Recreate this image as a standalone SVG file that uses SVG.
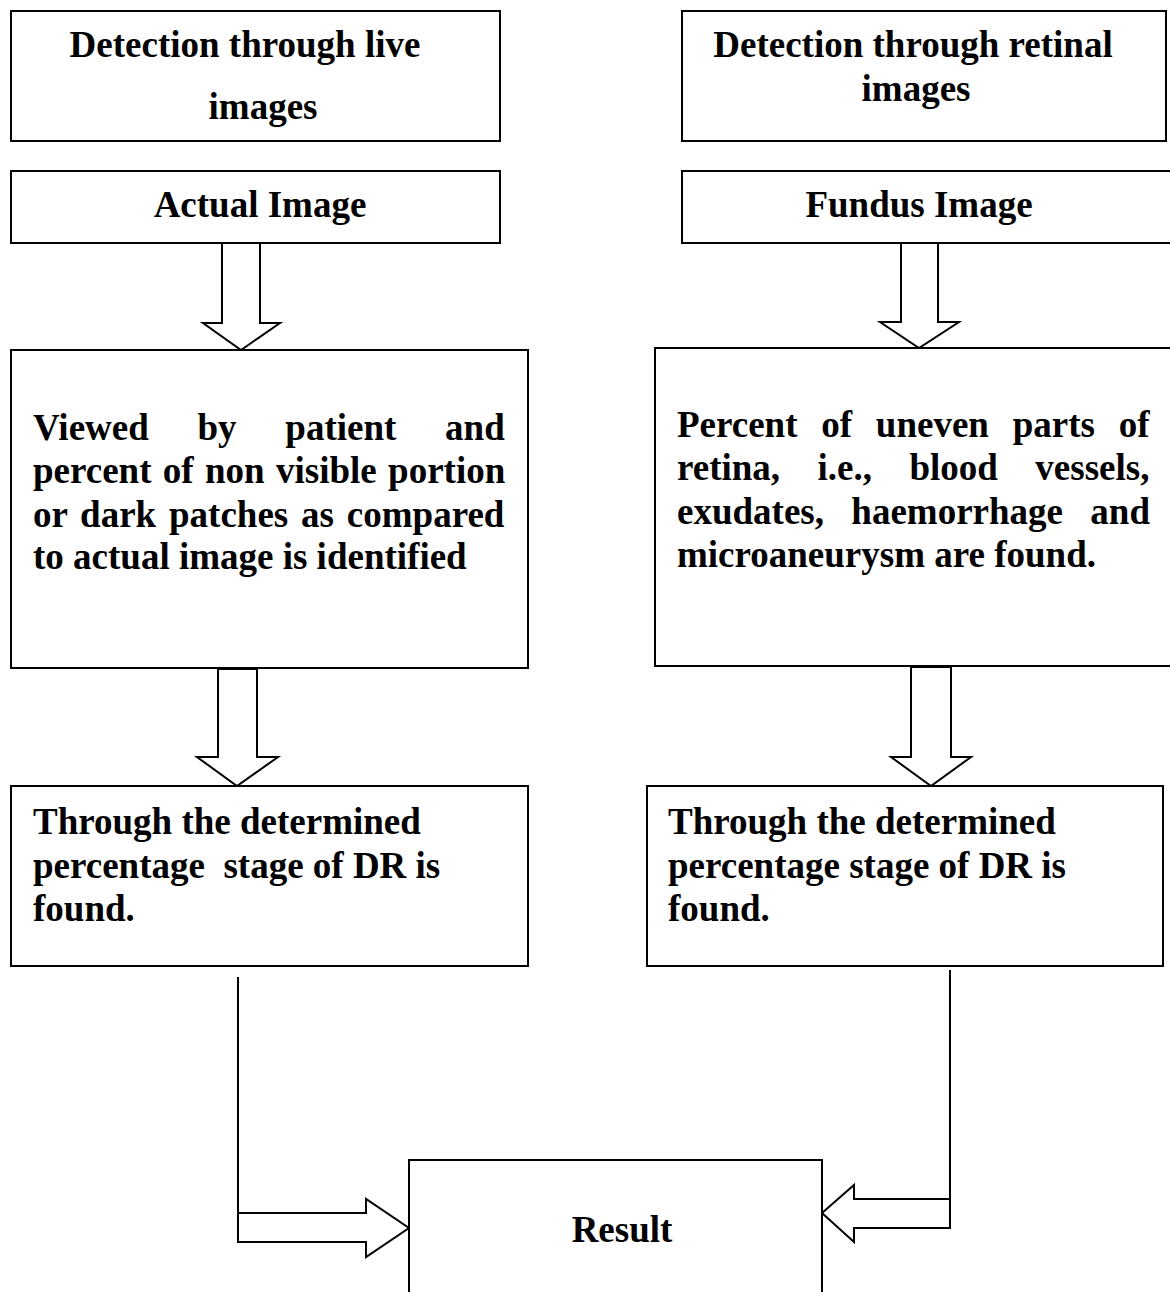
<svg xmlns="http://www.w3.org/2000/svg" width="1170" height="1292" viewBox="0 0 1170 1292">
  <style>
    .box { fill: #ffffff; stroke: #000000; stroke-width: 2; }
    .arrow { fill: #ffffff; stroke: #000000; stroke-width: 2; stroke-linejoin: miter; }
    .wire { fill: none; stroke: #000000; stroke-width: 2; }
    text { font-family: "Liberation Serif", "Times New Roman", serif; font-weight: bold; font-size: 37px; fill: #000000; }
    .mid { text-anchor: middle; }
  </style>
  <rect width="1170" height="1292" fill="#ffffff"/>

  <!-- connectors -->
  <g id="connectors">
    <polygon class="arrow" points="222,243 222,323 203,323 241,350 280,323 260,323 260,243"/>
    <polygon class="arrow" points="901,243 901,322 880,322 919,348 959,322 938,322 938,243"/>
    <polygon class="arrow" points="218,669 218,757 197,757 237,786 278,757 257,757 257,669"/>
    <polygon class="arrow" points="911,667 911,757 891,757 931,786 971,757 951,757 951,667"/>
    <!-- left branch into Result -->
    <polyline class="wire" points="238,977 238,1242"/>
    <polygon class="arrow" points="238,1213 366,1213 366,1199 409,1228 366,1257 366,1242 238,1242"/>
    <!-- right branch into Result -->
    <polyline class="wire" points="950,970 950,1228"/>
    <polygon class="arrow" points="950,1199 854,1199 854,1185 822,1213 854,1242 854,1228 950,1228"/>
  </g>

  <!-- left column -->
  <g id="live-detection">
    <rect class="box" x="11" y="11" width="489" height="130"/>
    <text class="mid" x="245" y="57">Detection through live</text>
    <text class="mid" x="263" y="119">images</text>
  </g>
  <g id="actual-image">
    <rect class="box" x="11" y="171" width="489" height="72"/>
    <text class="mid" x="260" y="217">Actual Image</text>
  </g>
  <g id="patient-view">
    <rect class="box" x="11" y="350" width="517" height="318"/>
    <text x="33" y="440" word-spacing="39.5">Viewed by patient and</text>
    <text x="33" y="483" word-spacing="2.1">percent of non visible portion</text>
    <text x="33" y="527" word-spacing="3.6">or dark patches as compared</text>
    <text x="33" y="569">to actual image is identified</text>
  </g>
  <g id="live-stage">
    <rect class="box" x="11" y="786" width="517" height="180"/>
    <text x="33" y="834">Through the determined</text>
    <text x="33" y="878" style="white-space:pre">percentage  stage of DR is</text>
    <text x="33" y="921">found.</text>
  </g>

  <!-- right column -->
  <g id="retinal-detection">
    <rect class="box" x="682" y="11" width="484" height="130"/>
    <text class="mid" x="913" y="57">Detection through retinal</text>
    <text class="mid" x="916" y="101">images</text>
  </g>
  <g id="fundus-image">
    <rect class="box" x="682" y="171" width="492" height="72"/>
    <text class="mid" x="919" y="217">Fundus Image</text>
  </g>
  <g id="retina-analysis">
    <rect class="box" x="655" y="348" width="520" height="318"/>
    <text x="677" y="437" word-spacing="14.5">Percent of uneven parts of</text>
    <text x="677" y="480" word-spacing="28.2">retina, i.e., blood vessels,</text>
    <text x="677" y="524" word-spacing="18.1">exudates, haemorrhage and</text>
    <text x="677" y="567">microaneurysm are found.</text>
  </g>
  <g id="retina-stage">
    <rect class="box" x="647" y="786" width="516" height="180"/>
    <text x="668" y="834">Through the determined</text>
    <text x="668" y="878">percentage stage of DR is</text>
    <text x="668" y="921">found.</text>
  </g>

  <!-- merge -->
  <g id="result">
    <rect class="box" x="409" y="1160" width="413" height="150"/>
    <text class="mid" x="622" y="1242">Result</text>
  </g>
</svg>
